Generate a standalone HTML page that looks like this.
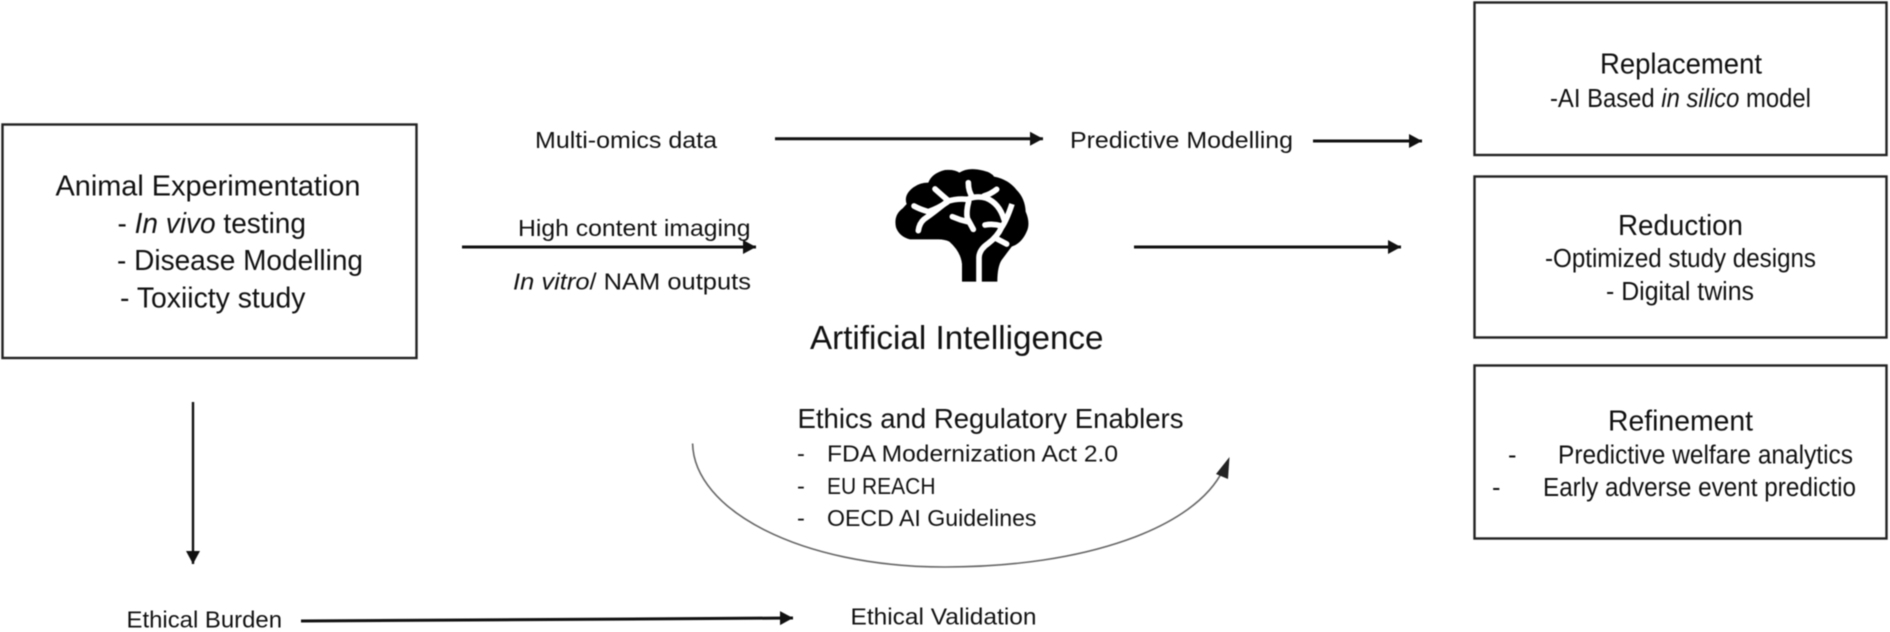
<!DOCTYPE html>
<html>
<head>
<meta charset="utf-8">
<style>
html,body{margin:0;padding:0;background:#fff;width:1890px;height:632px;overflow:hidden}
svg{display:block;filter:blur(.45px)}
text{font-family:"Liberation Sans",sans-serif;fill:#111}
.a{font-size:29px}.b{font-size:25.5px}.c{font-size:23.5px}
.it{font-style:italic}
</style>
</head>
<body>
<svg width="1890" height="632" viewBox="0 0 1890 632" xmlns="http://www.w3.org/2000/svg">
<defs>
<marker id="ah" markerUnits="userSpaceOnUse" markerWidth="16" markerHeight="16" refX="13" refY="8" orient="auto"><path d="M0 1 L13 8 L0 15 Z" fill="#111"/></marker>
</defs>
<g fill="#fff" stroke="#222" stroke-width="2.4">
<rect x="2.5" y="124.5" width="414" height="233.5"/>
<rect x="1474.5" y="2.5" width="412" height="152.5"/>
<rect x="1474.5" y="176.5" width="412" height="161"/>
<rect x="1474.5" y="365.5" width="412" height="173"/>
</g>
<g stroke="#111" stroke-width="3" fill="none">
<line x1="775" y1="138.7" x2="1043" y2="138.7" marker-end="url(#ah)"/>
<line x1="1313" y1="141" x2="1422" y2="141" marker-end="url(#ah)"/>
<line x1="462" y1="247" x2="756" y2="247" marker-end="url(#ah)"/>
<line x1="1134" y1="247" x2="1401" y2="247" marker-end="url(#ah)"/>
<line x1="193" y1="402" x2="193" y2="564" stroke-width="2.4" marker-end="url(#ah)"/>
<line x1="301" y1="621" x2="793" y2="618" marker-end="url(#ah)"/>
</g>
<path d="M692.6 443.5 C694 510 800 567 945 567 C1085 567 1195 528 1223 470" fill="none" stroke="#666" stroke-width="1.6"/>
<path d="M1216 474 L1229.5 457 L1228 479 Z" fill="#222"/>
<g transform="translate(860 140) scale(.33333)">
<path fill="#000" d="M306 425 V372 Q302 335 268 305 Q255 298 235 298 H150 Q118 290 108 262 Q100 225 128 205 L140 192 Q130 165 160 142 Q180 128 205 128 Q215 100 255 90 Q285 88 298 98 Q325 80 370 92 Q395 98 402 110 Q445 118 470 150 Q495 175 497 215 Q512 250 500 275 Q485 310 455 320 Q440 340 425 360 Q412 380 412 425 Z"/>
<g fill="none" stroke="#fff" stroke-width="17" stroke-linecap="round" stroke-linejoin="round">
<path d="M357 432 V352 Q358 328 385 310 Q412 290 425 262 Q440 240 456 192" stroke-linecap="butt"/>
<path d="M425 258 Q400 250 375 255"/>
<path d="M408 295 L440 312"/>
<path d="M432 238 Q418 190 378 174 Q350 166 322 178 Q290 175 262 184 Q225 215 192 238 Q178 250 175 272"/>
<path d="M265 182 Q245 165 225 147"/>
<path d="M262 186 Q235 205 205 215 Q180 208 162 198"/>
<path d="M338 172 Q325 155 325 128"/>
<path d="M372 168 Q392 162 410 148"/>
<path d="M326 185 Q318 215 322 235 L340 268"/>
<path d="M322 245 Q300 240 277 230"/>
</g>
</g>
<g>
<text class="a" x="55.5" y="195.5" textLength="305" lengthAdjust="spacingAndGlyphs">Animal Experimentation</text>
<text class="a" x="117.5" y="233" textLength="188.5" lengthAdjust="spacingAndGlyphs">- <tspan class="it">In vivo</tspan> testing</text>
<text class="a" x="117" y="270" textLength="246" lengthAdjust="spacingAndGlyphs">- Disease Modelling</text>
<text class="a" x="120" y="307.5" textLength="185.5" lengthAdjust="spacingAndGlyphs">- Toxiicty study</text>

<text class="c" x="535" y="148" textLength="182" lengthAdjust="spacingAndGlyphs">Multi-omics data</text>
<text class="c" x="518" y="236" textLength="232.5" lengthAdjust="spacingAndGlyphs">High content imaging</text>
<text class="c" x="513" y="289.5" textLength="238" lengthAdjust="spacingAndGlyphs"><tspan class="it">In vitro</tspan>/ NAM outputs</text>
<text class="c" x="1070" y="148" textLength="223" lengthAdjust="spacingAndGlyphs">Predictive Modelling</text>

<text style="font-size:33px" x="810" y="349" textLength="293.5" lengthAdjust="spacingAndGlyphs">Artificial Intelligence</text>
<text style="font-size:28px" x="797.5" y="428" textLength="386" lengthAdjust="spacingAndGlyphs">Ethics and Regulatory Enablers</text>

<text class="c" x="797" y="461.5">-</text>
<text class="c" x="827" y="461.5" textLength="291" lengthAdjust="spacingAndGlyphs">FDA Modernization Act 2.0</text>
<text class="c" x="797" y="494">-</text>
<text class="c" x="827" y="494" textLength="108.5" lengthAdjust="spacingAndGlyphs">EU REACH</text>
<text class="c" x="797" y="526">-</text>
<text class="c" x="827" y="526" textLength="209.5" lengthAdjust="spacingAndGlyphs">OECD AI Guidelines</text>

<text class="c" x="126.5" y="627.5" textLength="155.5" lengthAdjust="spacingAndGlyphs">Ethical Burden</text>
<text class="c" x="850.5" y="624.5" textLength="186" lengthAdjust="spacingAndGlyphs">Ethical Validation</text>

<text class="a" x="1600" y="73.5" textLength="162" lengthAdjust="spacingAndGlyphs">Replacement</text>
<text class="b" x="1550" y="107" textLength="261" lengthAdjust="spacingAndGlyphs">-AI Based <tspan class="it">in silico</tspan> model</text>

<text class="a" x="1618" y="235" textLength="125" lengthAdjust="spacingAndGlyphs">Reduction</text>
<text class="b" x="1545" y="267" textLength="271" lengthAdjust="spacingAndGlyphs">-Optimized study designs</text>
<text class="b" x="1606" y="300" textLength="148" lengthAdjust="spacingAndGlyphs">- Digital twins</text>

<text class="a" x="1608" y="430.5" textLength="145" lengthAdjust="spacingAndGlyphs">Refinement</text>
<text class="b" x="1508" y="463.5">-</text>
<text class="b" x="1558" y="463.5" textLength="295" lengthAdjust="spacingAndGlyphs">Predictive welfare analytics</text>
<text class="b" x="1492" y="496">-</text>
<text class="b" x="1543" y="496" textLength="313" lengthAdjust="spacingAndGlyphs">Early adverse event predictio</text>
</g>
</svg>
</body>
</html>
